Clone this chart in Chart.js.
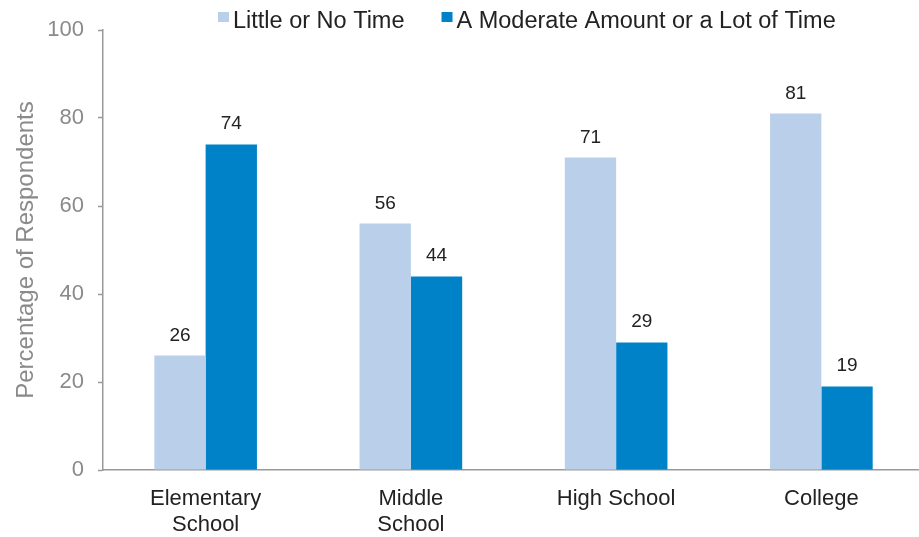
<!DOCTYPE html>
<html>
<head>
<meta charset="utf-8">
<script src="https://cdn.jsdelivr.net/npm/chart.js@4.4.0/dist/chart.umd.min.js"></script>
<style>
  html, body { margin: 0; padding: 0; background: #fff; overflow: hidden; }
</style>
</head>
<body>
<!-- el lienzo es un poco más ancho que la ventana: la última categoría se corta igual que en el original -->
<canvas id="grafico" width="924" height="537"></canvas>
<script>
// Datos
const categorias = [['Elementary', 'School'], ['Middle', 'School'], 'High School', 'College'];
const nombresSeries = ['Little or No Time', 'A Moderate Amount or a Lot of Time'];
const pocoTiempo = [26, 56, 71, 81];
const muchoTiempo = [74, 44, 29, 19];
const ticksY = [0, 20, 40, 60, 80, 100];

const fuente = "'Liberation Sans', Arial, sans-serif";
Chart.defaults.font.family = fuente;

// Números encima de cada barra
const etiquetasValor = {
  id: 'etiquetasValor',
  afterDatasetsDraw(chart) {
    const ctx = chart.ctx;
    ctx.save();
    ctx.font = '19px ' + fuente;
    ctx.fillStyle = '#222';
    ctx.textAlign = 'center';
    ctx.textBaseline = 'alphabetic';
    chart.data.datasets.forEach((ds, i) => {
      chart.getDatasetMeta(i).data.forEach((barra, j) => {
        ctx.fillText(ds.data[j], barra.x, barra.y - 15);
      });
    });
    ctx.restore();
  }
};

// Leyenda dibujada a mano (cuadro pegado al texto, como en el original)
const leyenda = {
  id: 'leyenda',
  afterDraw(chart) {
    const ctx = chart.ctx;
    ctx.save();
    ctx.font = '23.5px ' + fuente;
    ctx.textBaseline = 'alphabetic';
    let x = 218;
    chart.data.datasets.forEach(ds => {
      ctx.fillStyle = ds.backgroundColor;
      ctx.fillRect(x, 12, 11, 10);
      ctx.fillStyle = '#222';
      ctx.fillText(ds.label, x + 15, 28);
      x += 15 + ctx.measureText(ds.label).width + 37;
    });
    ctx.restore();
  }
};

const ctxGrafico = document.getElementById('grafico').getContext('2d');

new Chart(ctxGrafico, {
  type: 'bar',
  data: {
    labels: categorias,
    datasets: [{
      label: nombresSeries[0],
      data: pocoTiempo,
      backgroundColor: '#b9cfea',
      categoryPercentage: 0.5,
      barPercentage: 1.0,
    }, {
      label: nombresSeries[1],
      data: muchoTiempo,
      backgroundColor: '#0082c8',
      categoryPercentage: 0.5,
      barPercentage: 1.0,
    }],
  },
  options: {
    responsive: false,
    animation: false,
    layout: { padding: { top: 30, right: 0, left: 0, bottom: 0 } },
    plugins: {
      legend: { display: false },
      tooltip: { enabled: false }
    },
    scales: {
      x: {
        afterFit: s => { s.height = 67; },
        grid: { display: false, drawTicks: false },
        border: { color: '#999', width: 1.5 },
        ticks: {
          color: '#222',
          padding: 16,
          font: { size: 22, lineHeight: 1.18 }
        }
      },
      y: {
        min: 0,
        max: 100,
        afterFit: s => { s.width = 103; },
        afterBuildTicks: s => { s.ticks = ticksY.map(v => ({ value: v })); },
        grid: {
          drawOnChartArea: false,
          drawTicks: true,
          tickLength: 5,
          tickColor: '#999',
          tickWidth: 1.5
        },
        border: { color: '#999', width: 1.5 },
        ticks: {
          color: '#8a8a8a',
          padding: 14,
          font: { size: 22 }
        },
        title: {
          display: true,
          text: 'Percentage of Respondents',
          color: '#8a8a8a',
          font: { size: 24 },
          padding: { top: 12, bottom: 0 }
        }
      }
    }
  },
  plugins: [etiquetasValor, leyenda]
});
</script>
</body>
</html>
